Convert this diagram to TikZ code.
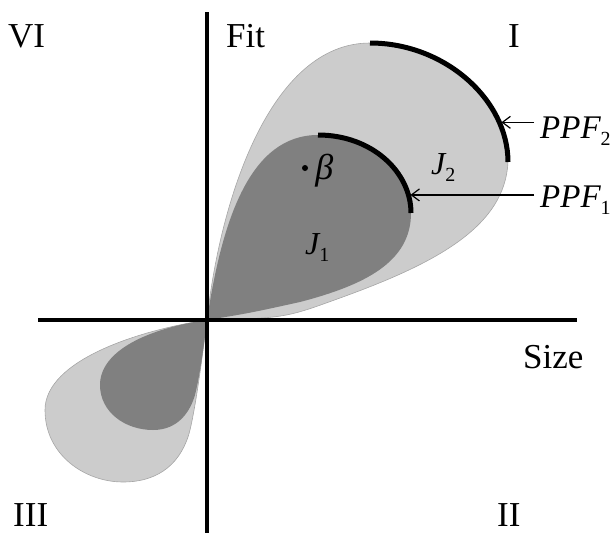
\documentclass[tikz,border=0pt]{standalone}
\usepackage{fontspec}
\setmainfont{Liberation Serif}
\usepackage{tikz}
\usetikzlibrary{arrows.meta, positioning, calc}

\definecolor{lightset}{gray}{0.80}
\definecolor{darkset}{gray}{0.50}
\newcommand{\lowidx}[1]{\raisebox{-7pt}{\fontsize{20}{20}\selectfont\upshape #1}}

\begin{document}
\begin{tikzpicture}[x=1pt, y=-1pt, >={Straight Barb[length=8pt,width=12pt]},
  axis/.style={line width=4pt},
  frontier/.style={line width=5pt},
  pointer/.style={->, line width=1.2pt, shorten >=2pt},
  lbl/.style={inner sep=0pt, anchor=base west, font=\fontsize{35}{35}\selectfont},
  setlbl/.style={lbl, font=\fontsize{32}{32}\selectfont\itshape},
  ppflbl/.style={lbl, inner xsep=6pt, font=\fontsize{33}{33}\selectfont\itshape}]
  \useasboundingbox (0,0) rectangle (614,533);
  \coordinate (O) at (207,320);
  \coordinate (xleft) at (38,320);
  \coordinate (xright) at (577,320);
  \coordinate (ytop) at (207,12);
  \coordinate (ybot) at (207,533);

  % J2, outer set
  \fill[lightset, draw=gray!70, line width=0.6pt] (O) .. controls (220,200) and (270,43) .. (370,43)
    .. controls (445,43) and (508,100) .. (508,162)
    .. controls (505,225) and (440,262) .. (340,298)
    .. controls (285,318) .. (O) -- cycle;
  \fill[lightset, draw=gray!70, line width=0.6pt] (O) .. controls (140,330) and (45,360) .. (45,410)
    .. controls (45,455) and (85,482) .. (123,482)
    .. controls (160,482) and (182,462) .. (190,430)
    .. controls (197,400) and (203,350) .. (O) -- cycle;

  % J1, inner set
  \fill[darkset] (O) .. controls (222,220) and (250,135) .. (318,135)
    .. controls (372,135) and (411,172) .. (411,213)
    .. controls (411,262) and (365,285) .. (300,302)
    .. controls (250,313) .. (O) -- cycle;
  \fill[darkset] (O) .. controls (150,328) and (100,350) .. (100,385)
    .. controls (100,412) and (125,430) .. (153,430)
    .. controls (178,430) and (190,412) .. (195,395)
    .. controls (200,375) and (204,345) .. (O) -- cycle;

  % frontiers
  \draw[frontier] (370,43) .. controls (445,43) and (508,100) .. (508,162) coordinate[pos=0.78] (tiptwo);
  \draw[frontier] (318,135) .. controls (372,135) and (411,172) .. (411,213) coordinate[pos=0.85] (tipone);

  % axes
  \draw[axis] (xleft) -- (xright);
  \draw[axis] (ytop) -- (ybot);

  % quadrants and axis names
  \node[lbl] (qVI) at (8,47) {VI};
  \node[lbl] (fitlbl) at (226,47) {Fit};
  \node[lbl] (qI) at (508,47) {I};
  \node[lbl] (sizelbl) at (523,368) {Size};
  \node[lbl] (qIII) at (13,526) {III};
  \node[lbl] (qII) at (497,526) {II};

  % sets and point
  \node[setlbl] (jone) at (305,254) {J\lowidx{1}};
  \node[setlbl] (jtwo) at (431,174) {J\lowidx{2}};
  \node[circle, fill, inner sep=0pt, minimum size=6pt] (betadot) at (305,168) {};
  \node[inner sep=0pt, font=\fontsize{36}{36}\selectfont\itshape, right=7pt of betadot, yshift=-3pt] (betalbl) {β};

  % frontier labels
  \node[ppflbl] (ppftwo) at (534,138) {PPF\lowidx{2}};
  \node[ppflbl] (ppfone) at (534,207) {PPF\lowidx{1}};
  \draw[pointer] (ppftwo.west |- tiptwo) -- (tiptwo);
  \draw[pointer] (ppfone.west |- tipone) -- (tipone);
\end{tikzpicture}
\end{document}
